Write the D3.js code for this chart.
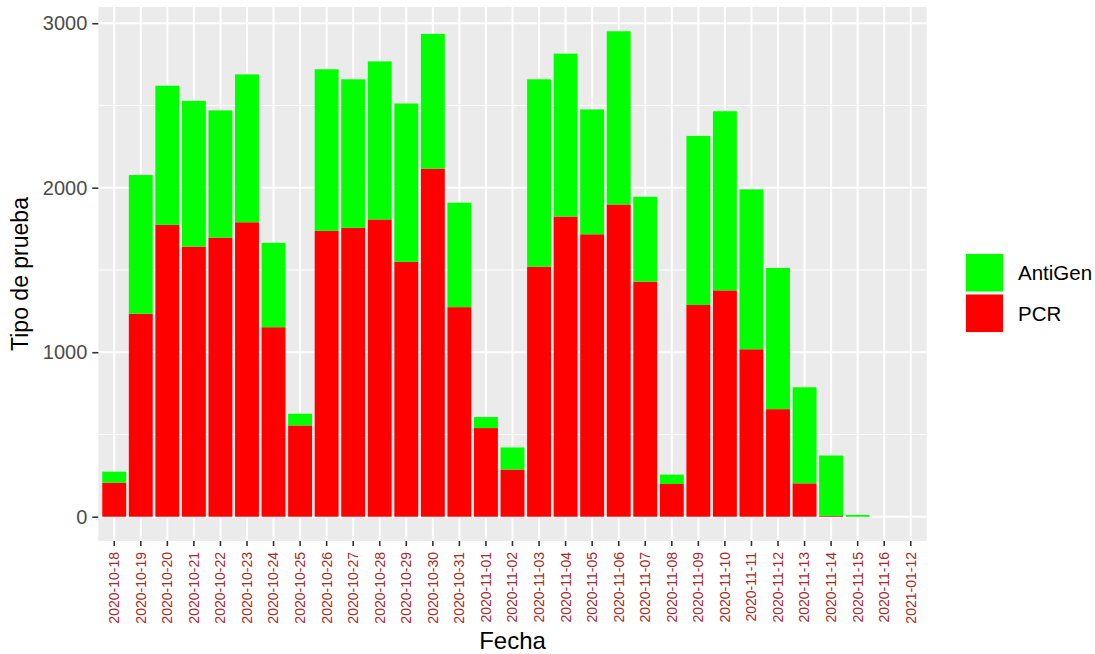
<!DOCTYPE html>
<html>
<head>
<meta charset="utf-8">
<script src="https://cdn.jsdelivr.net/npm/d3@7"></script>
<style>
body { margin: 0; background: #fff; }
text { font-family: "Liberation Sans", Arial, sans-serif; }
</style>
</head>
<body>
<svg id="chart" width="1095" height="654"></svg>
<script>
// fechas (eje x, discreto)
var fechas = ["2020-10-18","2020-10-19","2020-10-20","2020-10-21","2020-10-22","2020-10-23","2020-10-24",
  "2020-10-25","2020-10-26","2020-10-27","2020-10-28","2020-10-29","2020-10-30","2020-10-31",
  "2020-11-01","2020-11-02","2020-11-03","2020-11-04","2020-11-05","2020-11-06","2020-11-07",
  "2020-11-08","2020-11-09","2020-11-10","2020-11-11","2020-11-12","2020-11-13","2020-11-14",
  "2020-11-15","2020-11-16","2021-01-12"];

var pcr = [207,1234,1774,1642,1697,1790,1152,555,1738,1756,1807,1549,2116,1274,
  539,287,1520,1825,1717,1898,1429,199,1287,1376,1018,654,203,5,0,0,0];

// total = pcr + antigen
var antigen = [67,843,846,886,773,899,513,71,982,903,961,963,819,635,
  67,134,1139,990,759,1053,516,57,1028,1089,972,858,584,367,11,0,0];

var yTicks = [0,1000,2000,3000];
var tipos = ["AntiGen","PCR"];
var colores = {"AntiGen":"#00FF00","PCR":"#FF0000"};

var svg = d3.select("#chart");
var panel = {left: 98.3, right: 926.7, top: 7, bottom: 541};

var rows = fechas.map(function(f, i) {
  return {fecha: f, PCR: pcr[i], AntiGen: antigen[i]};
});
// PCR abajo, AntiGen arriba
var series = d3.stack().keys(["PCR","AntiGen"])(rows);

var ymax = d3.max(rows, function(d) { return d.PCR + d.AntiGen; });
var x = d3.scaleBand().domain(fechas)
  .range([panel.left, panel.right])
  .paddingInner(0.1).paddingOuter(0.15);
var y = d3.scaleLinear().domain([-0.05 * ymax, 1.05 * ymax])
  .range([panel.bottom, panel.top]);

// fondo del panel
svg.append("rect")
  .attr("x", panel.left).attr("y", panel.top)
  .attr("width", panel.right - panel.left).attr("height", panel.bottom - panel.top)
  .attr("fill", "#EBEBEB");

// rejilla menor
var minor = [500,1500,2500];
svg.selectAll(".minor").data(minor).enter().append("line")
  .attr("x1", panel.left).attr("x2", panel.right)
  .attr("y1", function(d) { return y(d); }).attr("y2", function(d) { return y(d); })
  .attr("stroke", "#fff").attr("stroke-width", 1);

// rejilla mayor
svg.selectAll(".hmaj").data(yTicks).enter().append("line")
  .attr("x1", panel.left).attr("x2", panel.right)
  .attr("y1", function(d) { return y(d); }).attr("y2", function(d) { return y(d); })
  .attr("stroke", "#fff").attr("stroke-width", 2);
svg.selectAll(".vmaj").data(fechas).enter().append("line")
  .attr("x1", function(d) { return x(d) + x.bandwidth() / 2; })
  .attr("x2", function(d) { return x(d) + x.bandwidth() / 2; })
  .attr("y1", panel.top).attr("y2", panel.bottom)
  .attr("stroke", "#fff").attr("stroke-width", 2);

// barras
svg.selectAll(".serie").data(series).enter().append("g")
  .attr("fill", function(s) { return colores[s.key]; })
  .selectAll("rect").data(function(s) { return s; }).enter().append("rect")
  .attr("x", function(d) { return x(d.data.fecha); })
  .attr("width", x.bandwidth())
  .attr("y", function(d) { return y(d[1]); })
  .attr("height", function(d) { return Math.max(0, y(d[0]) - y(d[1])); });

// eje y
var yAxis = svg.append("g").attr("transform", "translate(" + panel.left + ",0)")
  .call(d3.axisLeft(y).tickValues(yTicks).tickSize(6).tickPadding(5).tickFormat(d3.format("d")));
yAxis.select(".domain").remove();
yAxis.selectAll(".tick line").attr("stroke", "#333").attr("stroke-width", 1.6);
yAxis.selectAll(".tick text").attr("fill", "#4D4D4D").style("font-size", "20px")
  .style("font-family", "'Liberation Sans', Arial, sans-serif");

// eje x
var xAxis = svg.append("g").attr("transform", "translate(0," + panel.bottom + ")")
  .call(d3.axisBottom(x).tickSize(5).tickPadding(4));
xAxis.select(".domain").remove();
xAxis.selectAll(".tick line").attr("stroke", "#333").attr("stroke-width", 1.6);
xAxis.selectAll(".tick text")
  .attr("fill", "#A52A2A")
  .style("font-size", "14px")
  .style("font-family", "'Liberation Sans', Arial, sans-serif")
  .attr("transform", "rotate(-90)")
  .attr("text-anchor", "end")
  .attr("x", -11).attr("y", 0).attr("dy", "0.35em");

// titulos de ejes
svg.append("text")
  .attr("x", (panel.left + panel.right) / 2).attr("y", 649)
  .attr("text-anchor", "middle").style("font-size", "24px").attr("fill", "#000")
  .text("Fecha");
svg.append("text")
  .attr("transform", "translate(28," + ((panel.top + panel.bottom) / 2) + ") rotate(-90)")
  .attr("text-anchor", "middle").style("font-size", "23px").attr("fill", "#000")
  .text("Tipo de prueba");

// leyenda
var leg = svg.append("g").attr("transform", "translate(965,253)");
var item = leg.selectAll("g").data(tipos).enter().append("g")
  .attr("transform", function(d, i) { return "translate(0," + (i * 40.5) + ")"; });
item.append("rect").attr("width", 39).attr("height", 40).attr("fill", "#F2F2F2");
item.append("rect").attr("x", 1).attr("y", 1).attr("width", 37).attr("height", 37.5)
  .attr("fill", function(d) { return colores[d]; });
item.append("text").attr("x", 53).attr("y", 20).attr("dy", "0.35em")
  .style("font-size", "20.5px").attr("fill", "#000")
  .text(function(d) { return d; });
</script>
</body>
</html>
